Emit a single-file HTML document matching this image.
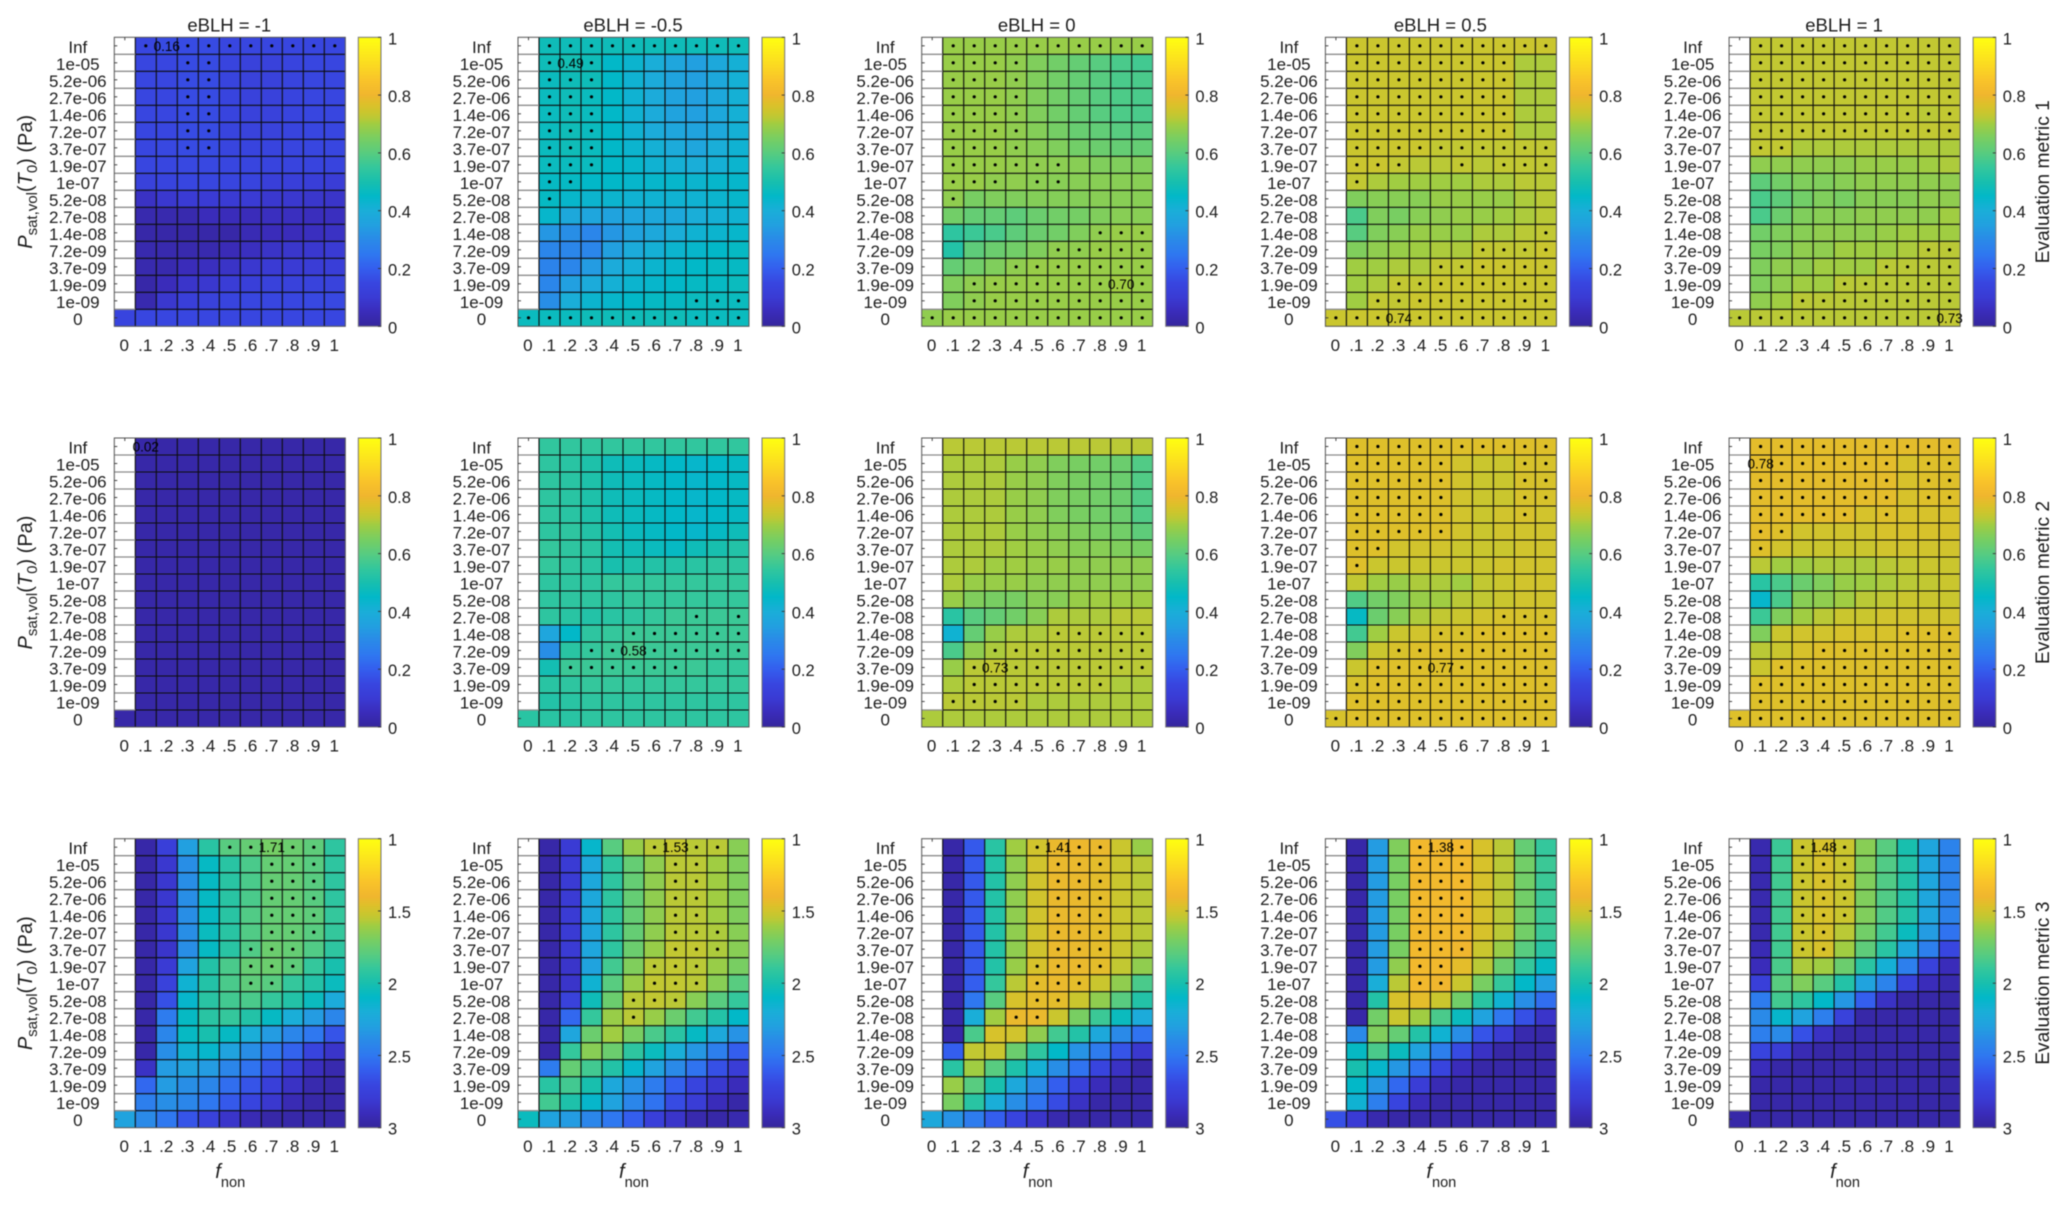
<!DOCTYPE html>
<html lang="en">
<head>
<meta charset="utf-8">
<title>Evaluation metrics heatmaps</title>
<style>
html,body{margin:0;padding:0;background:#fff;width:2067px;height:1205px;overflow:hidden}
svg{display:block;filter:blur(.4px)}
text{font-family:"Liberation Sans",Arial,sans-serif;fill:#1c1c1c}
</style>
</head>
<body>
<svg id="figure" xmlns="http://www.w3.org/2000/svg" width="2067" height="1205" viewBox="0 0 2067 1205"></svg>
<script>
const N = null;
const Z = "00000000000";
const A = "11111111111";

const rowLabels = ["Inf","1e-05","5.2e-06","2.7e-06","1.4e-06","7.2e-07","3.7e-07","1.9e-07","1e-07","5.2e-08","2.7e-08","1.4e-08","7.2e-09","3.7e-09","1.9e-09","1e-09","0"];
const colLabels = ["0",".1",".2",".3",".4",".5",".6",".7",".8",".9","1"];
const titles = ["eBLH = -1","eBLH = -0.5","eBLH = 0","eBLH = 0.5","eBLH = 1"];
const metricTitles = ["Evaluation metric 1","Evaluation metric 2","Evaluation metric 3"];
const cbTicksA = ["0","0.2","0.4","0.6","0.8","1"];
const cbTickValsA = [0,0.2,0.4,0.6,0.8,1];
const cbTicksB = ["3","2.5","2","1.5","1"];
const cbTickValsB = [3,2.5,2,1.5,1];

/* Metric 1 */
const m1a = [
[N,.15,.16,.16,.16,.15,.15,.15,.15,.15,.15],
[N,.15,.15,.16,.16,.14,.13,.13,.14,.15,.15],
[N,.15,.15,.16,.16,.14,.13,.13,.14,.15,.15],
[N,.15,.15,.16,.16,.14,.13,.13,.14,.15,.15],
[N,.15,.15,.16,.16,.14,.13,.13,.14,.15,.15],
[N,.15,.15,.16,.16,.14,.135,.135,.14,.15,.15],
[N,.15,.155,.16,.16,.145,.14,.14,.145,.15,.15],
[N,.15,.15,.155,.155,.15,.145,.14,.14,.14,.14],
[N,.13,.14,.15,.15,.145,.14,.12,.12,.115,.11],
[N,.07,.09,.10,.10,.10,.10,.09,.09,.085,.08],
[N,.03,.03,.03,.05,.05,.05,.06,.06,.055,.06],
[N,.02,.02,.02,.02,.02,.04,.05,.05,.06,.07],
[N,.03,.03,.03,.03,.045,.06,.075,.085,.09,.10],
[N,.03,.03,.05,.06,.075,.09,.10,.10,.11,.115],
[N,.02,.05,.08,.09,.11,.12,.13,.13,.135,.135],
[N,.03,.09,.12,.13,.14,.15,.15,.15,.155,.155],
[.14,.15,.15,.15,.15,.15,.15,.15,.15,.15,.15]];
const m1b = [
[N,.48,.48,.48,.48,.48,.48,.48,.48,.48,.48],
[N,.48,.49,.48,.45,.43,.40,.37,.35,.38,.41],
[N,.47,.48,.48,.45,.42,.39,.36,.35,.38,.41],
[N,.47,.48,.47,.45,.42,.39,.36,.35,.38,.41],
[N,.47,.48,.47,.45,.42,.39,.36,.35,.38,.41],
[N,.47,.48,.47,.45,.42,.39,.37,.36,.38,.41],
[N,.47,.48,.47,.45,.43,.41,.39,.37,.40,.42],
[N,.47,.47,.47,.45,.44,.42,.41,.40,.41,.43],
[N,.46,.46,.45,.45,.44,.44,.44,.43,.44,.44],
[N,.46,.44,.43,.43,.42,.42,.42,.42,.43,.44],
[N,.44,.38,.37,.36,.37,.38,.38,.40,.41,.42],
[N,.33,.31,.29,.33,.36,.38,.40,.42,.43,.44],
[N,.29,.29,.29,.35,.39,.41,.43,.44,.45,.46],
[N,.28,.29,.34,.39,.41,.43,.44,.45,.46,.46],
[N,.29,.35,.39,.41,.43,.44,.45,.46,.46,.47],
[N,.31,.40,.43,.44,.45,.46,.46,.47,.47,.47],
[.47,.47,.47,.48,.48,.48,.48,.48,.47,.47,.47]];
const m1c = [
[N,.69,.69,.69,.69,.69,.69,.69,.69,.69,.69],
[N,.69,.69,.69,.68,.66,.64,.62,.60,.58,.57],
[N,.69,.69,.69,.68,.66,.64,.62,.60,.58,.58],
[N,.69,.69,.69,.68,.66,.64,.62,.60,.585,.58],
[N,.69,.69,.69,.68,.66,.64,.62,.60,.585,.58],
[N,.69,.69,.69,.68,.665,.645,.625,.615,.60,.60],
[N,.69,.69,.69,.68,.67,.66,.64,.63,.62,.62],
[N,.69,.69,.69,.685,.68,.675,.67,.66,.66,.66],
[N,.69,.69,.68,.68,.675,.67,.67,.67,.67,.67],
[N,.68,.65,.66,.66,.665,.665,.665,.67,.67,.67],
[N,.64,.62,.62,.61,.63,.64,.645,.66,.67,.67],
[N,.54,.56,.58,.61,.63,.64,.66,.68,.69,.69],
[N,.52,.61,.63,.64,.66,.68,.68,.69,.69,.69],
[N,.62,.64,.66,.68,.69,.69,.69,.69,.69,.69],
[N,.66,.68,.69,.69,.69,.69,.69,.69,.70,.69],
[N,.66,.68,.69,.69,.69,.69,.69,.69,.69,.69],
[.68,.69,.69,.69,.69,.69,.69,.69,.69,.69,.69]];
const m1d = [
[N,.74,.74,.74,.74,.74,.74,.74,.74,.74,.74],
[N,.74,.74,.74,.74,.74,.74,.74,.74,.71,.71],
[N,.74,.74,.74,.74,.74,.74,.74,.74,.71,.71],
[N,.74,.74,.74,.74,.74,.74,.74,.74,.71,.71],
[N,.74,.74,.74,.74,.74,.74,.74,.74,.71,.71],
[N,.74,.74,.74,.74,.74,.74,.74,.74,.71,.71],
[N,.74,.74,.74,.74,.73,.73,.73,.73,.73,.73],
[N,.74,.74,.73,.72,.72,.73,.72,.73,.73,.73],
[N,.73,.71,.70,.70,.70,.70,.71,.71,.72,.72],
[N,.66,.67,.67,.67,.69,.69,.69,.69,.71,.72],
[N,.58,.66,.65,.67,.68,.69,.69,.70,.71,.72],
[N,.60,.66,.67,.69,.69,.69,.71,.71,.72,.73],
[N,.66,.68,.69,.70,.71,.71,.73,.73,.73,.74],
[N,.70,.70,.71,.71,.73,.73,.74,.74,.74,.74],
[N,.70,.71,.73,.73,.74,.74,.74,.74,.74,.74],
[N,.70,.73,.73,.74,.74,.74,.74,.74,.74,.74],
[.74,.74,.74,.74,.74,.74,.74,.74,.74,.74,.74]];
const m1e = [
[N,.73,.73,.73,.73,.73,.73,.73,.73,.73,.73],
[N,.73,.73,.73,.73,.73,.73,.73,.73,.73,.73],
[N,.73,.73,.73,.73,.73,.73,.73,.73,.73,.73],
[N,.73,.73,.73,.73,.73,.73,.73,.73,.73,.73],
[N,.73,.73,.73,.73,.73,.73,.73,.73,.72,.73],
[N,.73,.73,.73,.73,.73,.73,.73,.73,.73,.73],
[N,.73,.73,.71,.71,.71,.71,.71,.71,.71,.71],
[N,.68,.68,.68,.68,.68,.69,.69,.69,.70,.71],
[N,.61,.64,.66,.66,.67,.68,.68,.68,.68,.68],
[N,.58,.61,.64,.66,.65,.67,.67,.67,.68,.68],
[N,.58,.63,.66,.67,.67,.68,.68,.68,.68,.70],
[N,.64,.66,.67,.68,.68,.68,.69,.70,.70,.70],
[N,.65,.66,.68,.68,.70,.70,.70,.71,.72,.72],
[N,.66,.68,.68,.70,.70,.70,.72,.72,.72,.72],
[N,.66,.68,.70,.70,.72,.72,.72,.72,.72,.72],
[N,.68,.70,.72,.72,.72,.72,.72,.72,.72,.72],
[.72,.72,.72,.72,.72,.72,.72,.72,.72,.72,.73]];

/* Metric 2 */
const m2a = [
[N,.02,.02,.02,.02,.02,.02,.02,.02,.02,.02],
[N,.02,.02,.02,.02,.02,.02,.02,.02,.02,.02],
[N,.02,.02,.02,.02,.02,.02,.02,.02,.02,.02],
[N,.02,.02,.02,.02,.02,.02,.02,.02,.02,.02],
[N,.02,.02,.02,.02,.02,.02,.02,.02,.02,.02],
[N,.02,.02,.02,.02,.02,.02,.02,.02,.02,.02],
[N,.02,.02,.02,.02,.02,.02,.02,.02,.02,.02],
[N,.02,.02,.02,.02,.02,.02,.02,.02,.02,.02],
[N,.02,.02,.02,.02,.02,.02,.02,.02,.02,.02],
[N,.02,.02,.02,.02,.02,.02,.02,.02,.02,.02],
[N,.02,.02,.02,.02,.02,.02,.02,.02,.02,.02],
[N,.02,.02,.02,.02,.02,.02,.02,.02,.02,.02],
[N,.02,.02,.02,.02,.02,.02,.02,.02,.02,.02],
[N,.02,.02,.02,.02,.02,.02,.02,.02,.02,.02],
[N,.02,.02,.02,.02,.02,.02,.02,.02,.02,.02],
[N,.02,.02,.02,.02,.02,.02,.02,.02,.02,.02],
[.02,.02,.02,.02,.02,.02,.02,.02,.02,.02,.02]];
const m2b = [
[N,.545,.545,.545,.545,.545,.545,.545,.545,.545,.545],
[N,.54,.53,.51,.48,.47,.46,.45,.44,.45,.46],
[N,.54,.53,.51,.48,.47,.46,.45,.44,.45,.46],
[N,.54,.53,.51,.48,.47,.46,.45,.44,.45,.46],
[N,.54,.53,.51,.48,.47,.46,.45,.44,.45,.46],
[N,.54,.54,.52,.49,.47,.46,.45,.44,.46,.48],
[N,.55,.54,.53,.49,.48,.47,.46,.48,.50,.52],
[N,.55,.54,.53,.50,.51,.52,.52,.53,.54,.54],
[N,.54,.54,.54,.55,.55,.55,.55,.55,.55,.55],
[N,.54,.54,.54,.54,.55,.55,.55,.55,.55,.55],
[N,.54,.53,.52,.53,.54,.55,.56,.56,.56,.56],
[N,.37,.45,.54,.55,.56,.56,.56,.56,.56,.56],
[N,.31,.53,.55,.56,.58,.56,.56,.56,.56,.56],
[N,.49,.56,.56,.56,.56,.56,.56,.56,.55,.55],
[N,.53,.54,.55,.55,.55,.55,.55,.55,.55,.55],
[N,.52,.53,.54,.54,.54,.54,.54,.54,.54,.54],
[.53,.53,.53,.54,.54,.54,.54,.54,.54,.54,.54]];
const m2c = [
[N,.72,.72,.72,.72,.72,.72,.72,.72,.72,.72],
[N,.71,.71,.71,.69,.68,.66,.65,.64,.63,.59],
[N,.71,.71,.71,.69,.68,.66,.65,.64,.63,.59],
[N,.71,.71,.71,.69,.68,.66,.65,.64,.63,.59],
[N,.71,.71,.71,.69,.68,.66,.65,.64,.63,.59],
[N,.71,.71,.71,.69,.68,.67,.66,.65,.64,.61],
[N,.71,.71,.71,.70,.69,.68,.67,.67,.66,.65],
[N,.71,.71,.70,.70,.69,.69,.68,.68,.68,.68],
[N,.71,.69,.69,.69,.68,.68,.68,.68,.68,.68],
[N,.69,.66,.65,.65,.67,.67,.69,.70,.70,.70],
[N,.53,.60,.62,.64,.67,.71,.71,.71,.72,.72],
[N,.42,.62,.69,.71,.71,.72,.72,.72,.72,.72],
[N,.58,.68,.71,.72,.72,.72,.72,.72,.72,.72],
[N,.69,.72,.73,.72,.72,.72,.72,.72,.72,.72],
[N,.71,.72,.72,.72,.72,.72,.72,.72,.71,.71],
[N,.72,.72,.72,.72,.71,.71,.71,.71,.71,.71],
[.71,.71,.71,.71,.71,.71,.71,.71,.71,.71,.71]];
const m2d = [
[N,.77,.77,.77,.77,.77,.77,.77,.77,.77,.77],
[N,.77,.77,.77,.77,.77,.75,.74,.74,.76,.76],
[N,.77,.77,.77,.77,.77,.75,.74,.74,.76,.76],
[N,.77,.77,.77,.77,.77,.75,.74,.74,.76,.76],
[N,.77,.77,.77,.77,.77,.75,.74,.75,.76,.75],
[N,.77,.77,.77,.77,.77,.75,.74,.75,.75,.75],
[N,.77,.77,.75,.75,.75,.74,.74,.74,.75,.75],
[N,.77,.74,.74,.74,.74,.74,.74,.75,.75,.75],
[N,.73,.70,.69,.71,.71,.70,.73,.74,.75,.75],
[N,.59,.64,.66,.69,.70,.72,.73,.74,.75,.75],
[N,.46,.63,.67,.71,.73,.74,.75,.76,.76,.76],
[N,.57,.70,.74,.75,.76,.76,.77,.77,.77,.77],
[N,.66,.74,.76,.77,.77,.77,.77,.77,.77,.77],
[N,.74,.77,.77,.77,.77,.77,.77,.77,.77,.77],
[N,.76,.77,.77,.77,.77,.77,.77,.77,.77,.77],
[N,.77,.77,.77,.77,.77,.77,.77,.77,.77,.77],
[.76,.77,.77,.77,.77,.77,.77,.77,.77,.77,.77]];
const m2e = [
[N,.78,.78,.78,.78,.78,.78,.78,.78,.78,.78],
[N,.78,.78,.78,.78,.78,.78,.78,.76,.77,.77],
[N,.78,.78,.78,.78,.78,.78,.78,.76,.77,.77],
[N,.78,.78,.78,.78,.78,.78,.78,.76,.77,.77],
[N,.78,.78,.78,.78,.78,.76,.77,.76,.76,.76],
[N,.78,.77,.75,.75,.75,.75,.76,.76,.76,.76],
[N,.77,.75,.74,.74,.74,.74,.75,.75,.75,.75],
[N,.72,.70,.70,.71,.71,.71,.72,.73,.74,.74],
[N,.53,.58,.63,.66,.69,.70,.71,.72,.73,.74],
[N,.44,.58,.67,.68,.70,.72,.73,.74,.74,.74],
[N,.56,.66,.70,.72,.74,.74,.75,.75,.75,.75],
[N,.66,.74,.75,.75,.76,.76,.76,.77,.77,.77],
[N,.72,.74,.76,.77,.77,.77,.77,.77,.77,.77],
[N,.74,.77,.77,.77,.77,.77,.77,.77,.77,.77],
[N,.77,.77,.77,.77,.77,.77,.77,.77,.77,.77],
[N,.77,.77,.77,.77,.77,.77,.77,.77,.77,.77],
[.77,.77,.77,.77,.77,.77,.77,.77,.77,.77,.77]];

/* Metric 3 (reversed scale, 3 at the bottom, 1 at the top) */
const m3a = [
[N,2.96,2.76,2.30,1.94,1.80,1.76,1.71,1.74,1.78,1.92],
[N,2.96,2.82,2.38,2.08,1.94,1.84,1.76,1.76,1.80,1.92],
[N,2.96,2.82,2.38,2.08,1.94,1.84,1.76,1.76,1.80,1.92],
[N,2.96,2.82,2.38,2.08,1.94,1.84,1.76,1.76,1.80,1.92],
[N,2.96,2.82,2.38,2.08,1.94,1.82,1.76,1.76,1.78,1.90],
[N,2.96,2.82,2.38,2.06,1.94,1.82,1.76,1.76,1.80,1.90],
[N,2.96,2.84,2.38,2.08,1.94,1.82,1.74,1.76,1.82,1.92],
[N,2.96,2.80,2.28,1.96,1.84,1.76,1.74,1.78,1.90,2.00],
[N,2.96,2.74,2.16,1.96,1.84,1.78,1.80,1.90,1.96,2.06],
[N,2.96,2.66,2.12,1.94,1.86,1.84,1.90,1.96,2.06,2.22],
[N,2.96,2.48,2.08,1.94,1.90,1.96,2.08,2.20,2.32,2.42],
[N,2.96,2.42,2.08,2.00,2.08,2.20,2.32,2.42,2.50,2.64],
[N,2.96,2.38,2.16,2.12,2.28,2.38,2.50,2.58,2.72,2.84],
[N,2.86,2.32,2.28,2.32,2.42,2.52,2.64,2.76,2.88,2.94],
[N,2.56,2.32,2.38,2.42,2.54,2.64,2.76,2.86,2.94,2.96],
[N,2.46,2.38,2.42,2.50,2.62,2.72,2.82,2.92,2.96,2.96],
[2.28,2.40,2.50,2.64,2.74,2.84,2.92,2.96,2.96,2.96,2.96]];
const m3b = [
[N,2.96,2.80,2.12,1.80,1.62,1.56,1.53,1.56,1.56,1.66],
[N,2.96,2.80,2.24,1.92,1.76,1.64,1.56,1.56,1.60,1.68],
[N,2.96,2.80,2.24,1.92,1.76,1.64,1.56,1.56,1.60,1.68],
[N,2.96,2.80,2.24,1.92,1.76,1.64,1.56,1.56,1.60,1.68],
[N,2.96,2.80,2.24,1.92,1.76,1.64,1.56,1.56,1.60,1.68],
[N,2.96,2.80,2.26,1.92,1.76,1.64,1.56,1.56,1.58,1.66],
[N,2.96,2.80,2.26,1.92,1.74,1.62,1.54,1.54,1.58,1.66],
[N,2.96,2.84,2.28,1.86,1.68,1.56,1.54,1.56,1.62,1.70],
[N,2.96,2.84,2.16,1.80,1.62,1.54,1.54,1.56,1.66,1.80],
[N,2.96,2.74,2.04,1.74,1.56,1.54,1.56,1.66,1.80,1.90],
[N,2.96,2.56,1.90,1.62,1.56,1.62,1.74,1.86,1.96,2.10],
[N,2.96,2.26,1.74,1.60,1.70,1.84,1.94,2.08,2.24,2.36],
[N,2.96,1.90,1.66,1.74,1.92,2.06,2.20,2.34,2.46,2.60],
[N,2.48,1.76,1.86,1.96,2.12,2.28,2.40,2.52,2.66,2.78],
[N,1.94,1.86,2.00,2.24,2.36,2.48,2.60,2.72,2.82,2.90],
[N,1.86,1.98,2.12,2.28,2.42,2.52,2.68,2.78,2.90,2.96],
[2.06,2.28,2.32,2.42,2.50,2.60,2.76,2.84,2.94,2.96,2.94]];
const m3c = [
[N,2.96,2.62,1.94,1.60,1.50,1.42,1.41,1.42,1.52,1.62],
[N,2.96,2.62,1.96,1.64,1.50,1.42,1.42,1.44,1.52,1.56],
[N,2.96,2.62,1.96,1.64,1.50,1.42,1.42,1.44,1.52,1.56],
[N,2.96,2.62,1.96,1.64,1.50,1.42,1.42,1.44,1.52,1.56],
[N,2.96,2.62,1.96,1.64,1.50,1.42,1.42,1.44,1.52,1.56],
[N,2.96,2.62,1.96,1.64,1.50,1.42,1.42,1.44,1.52,1.56],
[N,2.96,2.62,1.96,1.64,1.50,1.42,1.42,1.44,1.52,1.58],
[N,2.96,2.62,1.96,1.62,1.48,1.42,1.42,1.44,1.54,1.64],
[N,2.96,2.60,1.90,1.56,1.44,1.42,1.44,1.52,1.64,1.84],
[N,2.96,2.50,1.80,1.48,1.44,1.44,1.52,1.64,1.80,1.96],
[N,2.96,2.20,1.60,1.42,1.42,1.52,1.70,1.88,2.06,2.22],
[N,2.96,1.84,1.48,1.50,1.64,1.86,1.96,2.24,2.40,2.52],
[N,2.60,1.54,1.52,1.74,1.92,2.10,2.36,2.48,2.64,2.82],
[N,1.94,1.60,1.80,1.98,2.18,2.38,2.52,2.72,2.86,2.96],
[N,1.62,1.80,2.00,2.24,2.40,2.60,2.76,2.90,2.96,2.96],
[N,1.70,1.94,2.20,2.38,2.52,2.68,2.86,2.96,2.96,2.96],
[2.24,2.36,2.48,2.60,2.72,2.84,2.94,2.96,2.96,2.96,2.96]];
const m3d = [
[N,2.96,2.32,1.68,1.38,1.38,1.38,1.48,1.56,1.76,1.90],
[N,2.96,2.32,1.70,1.38,1.38,1.38,1.48,1.56,1.72,1.88],
[N,2.96,2.32,1.70,1.38,1.38,1.38,1.48,1.56,1.72,1.88],
[N,2.96,2.32,1.70,1.38,1.38,1.38,1.48,1.56,1.72,1.88],
[N,2.96,2.32,1.70,1.38,1.38,1.38,1.48,1.56,1.72,1.88],
[N,2.96,2.32,1.70,1.38,1.38,1.38,1.48,1.56,1.72,1.88],
[N,2.96,2.32,1.70,1.38,1.38,1.40,1.52,1.62,1.80,1.94],
[N,2.96,2.32,1.64,1.38,1.38,1.44,1.56,1.74,1.90,2.08],
[N,2.96,2.20,1.56,1.38,1.40,1.52,1.70,1.90,2.10,2.30],
[N,2.96,1.96,1.48,1.44,1.52,1.72,1.94,2.16,2.38,2.54],
[N,2.96,1.72,1.52,1.60,1.84,2.06,2.28,2.50,2.66,2.84],
[N,2.40,1.68,1.76,1.96,2.16,2.38,2.64,2.78,2.94,2.96],
[N,2.08,1.84,2.06,2.28,2.46,2.68,2.86,2.96,2.96,2.96],
[N,2.00,2.12,2.34,2.52,2.72,2.90,2.96,2.96,2.96,2.96],
[N,2.10,2.34,2.56,2.78,2.92,2.96,2.96,2.96,2.96,2.96],
[N,2.16,2.46,2.72,2.90,2.96,2.96,2.96,2.96,2.96,2.96],
[2.66,2.80,2.94,2.96,2.96,2.96,2.96,2.96,2.96,2.96,2.96]];
const m3e = [
[N,2.94,1.88,1.52,1.48,1.52,1.66,1.80,2.00,2.26,2.44],
[N,2.94,1.86,1.52,1.48,1.52,1.68,1.82,1.96,2.26,2.44],
[N,2.94,1.86,1.52,1.48,1.52,1.68,1.82,1.96,2.26,2.44],
[N,2.94,1.86,1.52,1.48,1.52,1.68,1.82,1.96,2.26,2.44],
[N,2.94,1.86,1.52,1.48,1.52,1.68,1.82,1.96,2.26,2.44],
[N,2.94,1.86,1.52,1.48,1.56,1.72,1.86,2.06,2.32,2.52],
[N,2.92,1.86,1.52,1.48,1.60,1.78,1.94,2.24,2.46,2.70],
[N,2.90,1.84,1.58,1.60,1.74,1.94,2.18,2.46,2.74,2.90],
[N,2.76,1.80,1.68,1.80,1.96,2.28,2.44,2.74,2.90,2.94],
[N,2.48,1.86,1.92,2.10,2.34,2.60,2.86,2.96,2.96,2.96],
[N,2.40,2.12,2.28,2.46,2.74,2.96,2.96,2.96,2.96,2.96],
[N,2.46,2.40,2.66,2.86,2.96,2.96,2.96,2.96,2.96,2.96],
[N,2.72,2.78,2.92,2.96,2.96,2.96,2.96,2.96,2.96,2.96],
[N,2.90,2.96,2.96,2.96,2.96,2.96,2.96,2.96,2.96,2.96],
[N,2.96,2.96,2.96,2.96,2.96,2.96,2.96,2.96,2.96,2.96],
[N,2.96,2.96,2.96,2.96,2.96,2.96,2.96,2.96,2.96,2.96],
[2.96,2.96,2.96,2.96,2.96,2.96,2.96,2.96,2.96,2.96,2.96]];

/* Significance dots per cell */
const d1a = ["01011111111","00011000000","00011000000","00011000000","00011000000","00011000000","00011000000",Z,Z,Z,Z,Z,Z,Z,Z,Z,Z];
const d1b = ["01111111111","01010000000","01110000000","01110000000","01110000000","01110000000","01110000000","01110000000","01100000000","01000000000",Z,Z,Z,Z,Z,"00000000111",A];
const d1c = ["01111111111","01111000000","01111000000","01111000000","01111000000","01111000000","01111000000","01111110000","01110110000","01000000000",Z,"00000000111","00000011111","00001111111","00111111101","00111111111",A];
const d1d = ["01111111111","01111111100","01111111100","01111111100","01111111100","01111111100","01111111111","01110010111","01000000000",Z,Z,"00000000001","00000001111","00000111111","00011111111","00111111111","11101111111"];
const d1e = ["01111111111","01111111111","01111111111","01111111111","01111111111","01111111111","01100000000",Z,Z,Z,Z,Z,"00000000011","00000001111","00000111111","00011111111","11111111110"];
const d2a = [Z,Z,Z,Z,Z,Z,Z,Z,Z,Z,Z,Z,Z,Z,Z,Z,Z];
const d2b = [Z,Z,Z,Z,Z,Z,Z,Z,Z,Z,"00000000101","00000111111","00011011111","00111111000",Z,Z,Z];
const d2c = [Z,Z,Z,Z,Z,Z,Z,Z,Z,Z,Z,"00000011111","00011111111","00101111111","00111111100","01111000000",Z];
const d2d = ["01111111111","01111100011","01111100011","01111100011","01111100010","01111100000","01100000000","01000000000",Z,Z,"00000000111","00000111111","00011111111","00111011111","01111111111","01111111111",A];
const d2e = ["01111111111","00111111011","01111111011","01111111011","01111101000","01100000000","01000000000",Z,Z,Z,Z,"00000000111","00001111111","00111111111","01111111111","01111111111",A];
const d3a = ["00000110110","00000001110","00000001110","00000001110","00000001110","00000001110","00000011100","00000011100","00000011000",Z,Z,Z,Z,Z,Z,Z,Z];
const d3b = ["00000010110","00000001100","00000001100","00000001100","00000001100","00000001110","00000001110","00000011100","00000011100","00000111000","00000100000",Z,Z,Z,Z,Z,Z];
const d3c = ["00000101100","00000011100","00000011100","00000011100","00000011100","00000011100","00000011100","00000111100","00000111000","00000110000","00001100000",Z,Z,Z,Z,Z,Z];
const d3d = ["00001010000","00001110000","00001110000","00001110000","00001110000","00001110000","00001110000","00001100000","00001100000",Z,Z,Z,Z,Z,Z,Z,Z];
const d3e = ["00010100000","00011100000","00011100000","00011100000","00011100000","00011000000","00011000000",Z,Z,Z,Z,Z,Z,Z,Z,Z,Z];

/* Best-value annotation of each panel */
const bestText = [["0.16","0.49","0.70","0.74","0.73"],["0.02","0.58","0.73","0.77","0.78"],["1.71","1.53","1.41","1.38","1.48"]];
const bestRow = [[0,1,14,16,16],[0,12,13,13,1],[0,0,0,0,0]];
const bestCol = [[2,2,9,3,10],[1,5,3,5,1],[7,7,6,5,4]];

const valueGrid = [[m1a,m1b,m1c,m1d,m1e],[m2a,m2b,m2c,m2d,m2e],[m3a,m3b,m3c,m3d,m3e]];
const dotGrid = [[d1a,d1b,d1c,d1d,d1e],[d2a,d2b,d2c,d2d,d2e],[d3a,d3b,d3c,d3d,d3e]];

const colorStops = [
[0,53,38,156],[.05,58,44,186],[.1,58,59,212],[.15,56,70,224],[.2,52,94,238],[.25,47,120,240],[.3,42,138,232],[.35,34,160,224],
[.4,26,174,216],[.45,2,184,200],[.5,24,191,174],[.55,52,199,156],[.6,88,204,128],[.65,120,206,98],[.7,160,205,66],[.72,186,201,54],
[.74,202,198,46],[.77,222,192,42],[.8,240,182,46],[.85,249,195,42],[.9,251,216,34],[.95,253,236,26],[1,255,255,16]];

const svg = document.getElementById('figure');
const NS = 'http://www.w3.org/2000/svg';
function make(tag, attrs, parent){
  const el = document.createElementNS(NS, tag);
  for (const k in attrs) el.setAttribute(k, attrs[k]);
  parent.appendChild(el);
  return el;
}
function colorAt(t){
  t = Math.max(0, Math.min(1, t));
  for (let i = 1; i < colorStops.length; i++){
    const a = colorStops[i-1], b = colorStops[i];
    if (t <= b[0]){
      const f = (t - a[0]) / (b[0] - a[0]);
      return 'rgb(' + [1,2,3].map(j => Math.round(a[j] + (b[j]-a[j])*f)).join(',') + ')';
    }
  }
  return 'rgb(255,255,16)';
}
function fractionFor(metric, v){ return metric === 2 ? (3 - v) / 2 : v; }

/* Colorbar gradients */
const defs = make('defs', {}, svg);
const grad = make('linearGradient', {id:'parula', x1:0, y1:1, x2:0, y2:0}, defs);
colorStops.forEach(s => { make('stop', {offset:s[0], 'stop-color':'rgb('+s[1]+','+s[2]+','+s[3]+')'}, grad); });

const PW = 231, PH = 289;
for (let m = 0; m < 3; m++){
  for (let e = 0; e < 5; e++){
    const left = 114.3 + e * 403.7;
    const top = 37.3 + m * 400.7;
    const xAt = c => left + c * PW / colLabels.length;
    const yAt = r => top + r * PH / rowLabels.length;
    const values = valueGrid[m][e];
    const dots = dotGrid[m][e];

    const panel = make('g', {}, svg);
    
    

    const plot = make('rect', {x:left, y:top, width:PW, height:PH, fill:'#fff'}, panel);
    
    

    values.forEach((row, r) => row.forEach((v, c) => {
      if (v === null) return;
      const cell = make('rect', {x:xAt(c), y:yAt(r), width:xAt(c+1)-xAt(c)+.3, height:yAt(r+1)-yAt(r)+.3, fill:colorAt(fractionFor(m, v))}, panel);
      
      
    }));

    /* Grid lines */
    for (let c = 1; c < colLabels.length; c++){
      const gl = make('line', {x1:xAt(c), x2:xAt(c), y1:top, y2:top+PH, stroke:'#0c0c0c', 'stroke-width':1.1}, panel);
      
      
    }
    for (let r = 1; r < rowLabels.length; r++){
      const gh = make('line', {x1:xAt(1), x2:left+PW, y1:yAt(r), y2:yAt(r), stroke:'#0c0c0c', 'stroke-width':1.1}, panel);
      
      
      const gb = make('line', {x1:left, x2:xAt(1), y1:yAt(r), y2:yAt(r), stroke:'#8c8c8c', 'stroke-width':1.3}, panel);
      
      
    }

    /* Axes box and y ticks */
    const box = make('rect', {x:left, y:top, width:PW, height:PH, fill:'none', stroke:'#555', 'stroke-width':1}, panel);
    
    
    rowLabels.forEach((lab, r) => {
      const yc = yAt(r + .5);
      const tk = make('line', {x1:left, x2:left+3, y1:yc, y2:yc, stroke:'#333', 'stroke-width':.9}, panel);
      
      
      const tl = make('text', {x:left-36.5, y:yc+7, 'text-anchor':'middle', 'font-size':17}, panel);
      tl.textContent = lab;
      
      
    });
    colLabels.forEach((lab, c) => {
      const xc = xAt(c + .5);
      if (c === 0){
        const tt = make('line', {x1:xc, x2:xc, y1:top, y2:top+3, stroke:'#333', 'stroke-width':.9}, panel);
        
        
      }
      const tl = make('text', {x:xc-.6, y:top+PH+24.5, 'text-anchor':'middle', 'font-size':17}, panel);
      tl.textContent = lab;
      
      
    });

    /* Dots */
    dots.forEach((s, r) => {
      for (let c = 0; c < s.length; c++){
        if (s[c] !== '1') continue;
        const dot = make('circle', {cx:xAt(c+.5), cy:yAt(r+.5), r:1.6, fill:'#000'}, panel);
        
        
      }
    });

    /* Best value annotation */
    const best = make('text', {x:xAt(bestCol[m][e]+.5), y:yAt(bestRow[m][e]+.5)+5, 'text-anchor':'middle', 'font-size':13.5, style:'fill:#000'}, panel);
    best.textContent = bestText[m][e];
    
    

    /* Colorbar */
    const cbx = left + 244;
    const cbw = 22.7;
    const cb = make('rect', {x:cbx, y:top, width:cbw, height:PH, fill:'url(#parula)', stroke:'#777', 'stroke-width':1}, panel);
    
    
    const tickLabels = m === 2 ? cbTicksB : cbTicksA;
    const tickVals = m === 2 ? cbTickValsB : cbTickValsA;
    tickVals.forEach((v, i) => {
      const yy = top + PH - fractionFor(m, v) * PH;
      const tk = make('line', {x1:cbx+cbw-3, x2:cbx+cbw, y1:yy, y2:yy, stroke:'#333', 'stroke-width':.9}, panel);
      
      
      const tl = make('text', {x:cbx+cbw+7, y:yy+7, 'font-size':16.5}, panel);
      tl.textContent = tickLabels[i];
      
      
    });

    /* Column title */
    if (m === 0){
      const t = make('text', {x:left+115, y:top-5.6, 'text-anchor':'middle', 'font-size':18.5}, panel);
      t.textContent = titles[e];
      
      
    }

    /* Y axis title */
    if (e === 0){
      const yt = make('text', {transform:'translate(32,' + (top+144.5) + ') rotate(-90)', 'text-anchor':'middle', 'font-size':20}, panel);
      yt.innerHTML = '<tspan font-style="italic">P</tspan><tspan font-size="15" dy="5">sat,vol</tspan><tspan dy="-5">(</tspan><tspan font-style="italic">T</tspan><tspan font-size="15" dy="5">0</tspan><tspan dy="-5">) (Pa)</tspan>';
      
      
    }

    /* X axis title */
    if (m === 2){
      const xt = make('text', {x:left+101, y:top+339.5, 'font-size':20}, panel);
      xt.innerHTML = '<tspan font-style="italic">f</tspan><tspan font-size="14.6" dy="8.7">non</tspan>';
      
      
    }

    /* Row metric title */
    if (e === 4){
      const rt = make('text', {transform:'translate(2049,' + (top+144.5) + ') rotate(-90)', 'text-anchor':'middle', 'font-size':19.2}, panel);
      rt.textContent = metricTitles[m];
      
      
    }
  }
}
</script>
</body>
</html>
